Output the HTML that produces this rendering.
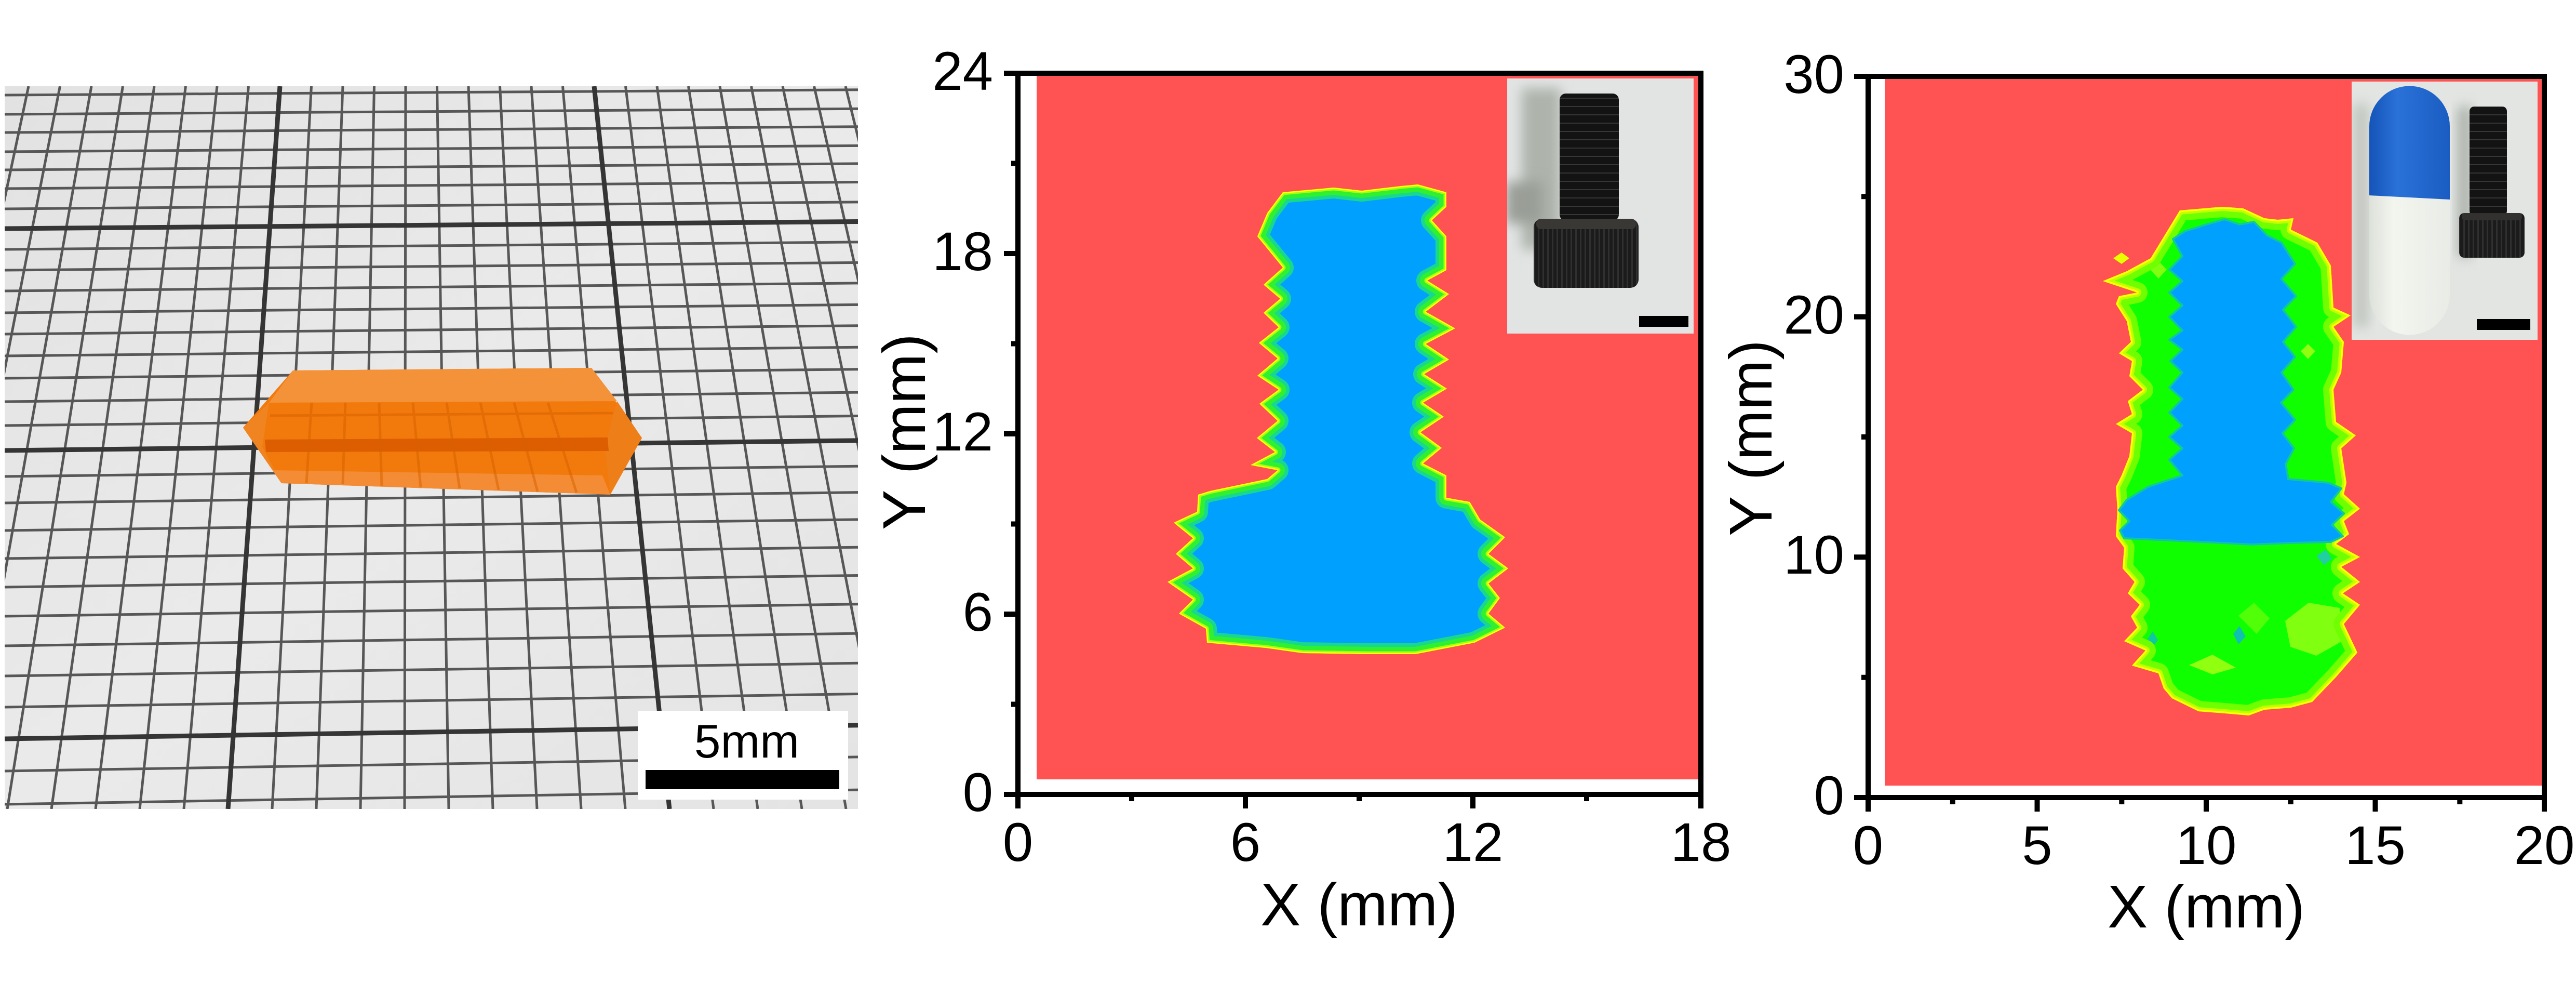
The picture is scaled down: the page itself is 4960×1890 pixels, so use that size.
<!DOCTYPE html>
<html>
<head>
<meta charset="utf-8">
<style>
html,body{margin:0;padding:0;background:#fff;}
svg{display:block;}
text{font-family:"Liberation Sans",Arial,sans-serif;fill:#000;}
</style>
</head>
<body>
<svg xmlns="http://www.w3.org/2000/svg" xmlns:xlink="http://www.w3.org/1999/xlink" width="4960" height="1890" viewBox="0 0 4960 1890">
<defs>
  <clipPath id="ph"><rect x="9" y="166" width="1643" height="1391"/></clipPath>
  <linearGradient id="pg" x1="0" y1="0" x2="1" y2="1">
    <stop offset="0" stop-color="#e2e2e2"/>
    <stop offset="0.5" stop-color="#eaeaea"/>
    <stop offset="1" stop-color="#e4e4e4"/>
  </linearGradient>
  <polygon id="p2" points="2470,370 2568,361 2622,367 2698,358 2730,355 2785,370 2785,398 2757,424 2785,455 2785,520 2748,540 2790,566 2745,600 2802,632 2745,662 2790,692 2742,720 2786,748 2740,775 2780,802 2735,832 2776,862 2740,892 2785,915 2785,958 2830,966 2850,1000 2898,1034 2866,1066 2904,1094 2866,1123 2888,1151 2866,1181 2898,1208 2839,1237 2725,1259 2633,1259 2508,1257 2437,1247 2324,1237 2322,1210 2270,1181 2297,1154 2248,1120 2297,1094 2264,1066 2297,1036 2260,1006 2305,985 2307,952 2330,945 2440,922 2460,905 2408,895 2455,870 2420,843 2460,810 2425,777 2462,750 2421,723 2460,690 2424,660 2462,630 2433,602 2465,575 2433,548 2470,515 2421,455 2440,410"/>
  <clipPath id="c2"><use xlink:href="#p2"/></clipPath>
  <polygon id="p3" points="4197,405 4279,398 4319,401 4360,420 4386,423 4416,420 4411,442 4462,467 4488,511 4493,592 4526,607 4493,629 4513,658 4508,717 4493,750 4498,812 4536,838 4508,863 4518,929 4513,951 4544,979 4513,1003 4523,1028 4498,1047 4544,1072 4508,1091 4544,1120 4511,1142 4544,1164 4513,1201 4539,1256 4498,1303 4452,1351 4411,1362 4360,1366 4330,1377 4284,1373 4233,1369 4182,1344 4166,1325 4156,1296 4105,1281 4131,1252 4090,1234 4115,1208 4103,1186 4120,1164 4097,1142 4110,1120 4087,1094 4090,1054 4074,1032 4077,981 4074,937 4085,915 4100,878 4105,834 4074,816 4105,797 4097,772 4126,750 4100,724 4105,695 4080,680 4103,658 4095,618 4074,585 4080,570 4115,563 4049,541 4095,522 4141,497 4166,456"/>
  <clipPath id="c3"><use xlink:href="#p3"/></clipPath>
  <clipPath id="in2"><rect x="2902" y="151" width="359" height="491"/></clipPath>
  <clipPath id="in3"><rect x="4528" y="157" width="358" height="497"/></clipPath>
  <filter id="bl" x="-50%" y="-50%" width="200%" height="200%"><feGaussianBlur stdDeviation="12"/></filter>
  <pattern id="knurl" width="9" height="20" patternUnits="userSpaceOnUse">
    <rect width="9" height="20" fill="#1b1b1b"/>
    <rect x="0" width="3" height="20" fill="#303030"/>
  </pattern>
  <pattern id="thread" width="20" height="16" patternUnits="userSpaceOnUse">
    <rect width="20" height="16" fill="#131313"/>
    <rect y="12" width="20" height="2" fill="#363636"/>
  </pattern>
  <linearGradient id="capb" x1="0" y1="0" x2="1" y2="0">
    <stop offset="0" stop-color="#1553b8"/>
    <stop offset="0.35" stop-color="#2a72d8"/>
    <stop offset="1" stop-color="#1a5cc2"/>
  </linearGradient>
  <linearGradient id="capw" x1="0" y1="0" x2="1" y2="0">
    <stop offset="0" stop-color="#dde1da"/>
    <stop offset="0.3" stop-color="#f3f5ef"/>
    <stop offset="1" stop-color="#e9ece6"/>
  </linearGradient>
</defs>

<rect width="4960" height="1890" fill="#fff"/>

<!-- PANEL 1: PHOTO -->
<g clip-path="url(#ph)">
  <rect x="9" y="166" width="1643" height="1391" fill="url(#pg)"/>
  <g stroke="#575757" stroke-width="5" fill="none">
    <line x1="55" y1="166" x2="-241" y2="1557"/>
    <line x1="115.5" y1="166" x2="-156" y2="1557"/>
    <line x1="176" y1="166" x2="-71" y2="1557"/>
    <line x1="236.5" y1="166" x2="14" y2="1557"/>
    <line x1="297" y1="166" x2="99" y2="1557"/>
    <line x1="357.5" y1="166" x2="184" y2="1557"/>
    <line x1="418" y1="166" x2="269" y2="1557"/>
    <line x1="478.5" y1="166" x2="354" y2="1557"/>
    <line x1="599.5" y1="166" x2="524" y2="1557"/>
    <line x1="660" y1="166" x2="609" y2="1557"/>
    <line x1="720.5" y1="166" x2="694" y2="1557"/>
    <line x1="781" y1="166" x2="779" y2="1557"/>
    <line x1="841.5" y1="166" x2="864" y2="1557"/>
    <line x1="902" y1="166" x2="949" y2="1557"/>
    <line x1="962.5" y1="166" x2="1034" y2="1557"/>
    <line x1="1023" y1="166" x2="1119" y2="1557"/>
    <line x1="1083.5" y1="166" x2="1204" y2="1557"/>
    <line x1="1204.5" y1="166" x2="1374" y2="1557"/>
    <line x1="1265" y1="166" x2="1459" y2="1557"/>
    <line x1="1325.5" y1="166" x2="1544" y2="1557"/>
    <line x1="1386" y1="166" x2="1629" y2="1557"/>
    <line x1="1446.5" y1="166" x2="1714" y2="1557"/>
    <line x1="1507" y1="166" x2="1799" y2="1557"/>
    <line x1="1567.5" y1="166" x2="1884" y2="1557"/>
    <line x1="1628" y1="166" x2="1969" y2="1557"/>

    <line x1="9" y1="183" x2="1652" y2="172.8"/>
    <line x1="9" y1="220" x2="1652" y2="209.3"/>
    <line x1="9" y1="255" x2="1652" y2="243.8"/>
    <line x1="9" y1="292" x2="1652" y2="280.4"/>
    <line x1="9" y1="327" x2="1652" y2="314.9"/>
    <line x1="9" y1="363" x2="1652" y2="350.5"/>
    <line x1="9" y1="402" x2="1652" y2="388.9"/>
    <line x1="9" y1="480" x2="1652" y2="465.9"/>
    <line x1="9" y1="520" x2="1652" y2="505.4"/>
    <line x1="9" y1="560" x2="1652" y2="544.9"/>
    <line x1="9" y1="602" x2="1652" y2="586.4"/>
    <line x1="9" y1="643" x2="1652" y2="626.8"/>
    <line x1="9" y1="685" x2="1652" y2="668.3"/>
    <line x1="9" y1="728" x2="1652" y2="710.7"/>
    <line x1="9" y1="773" x2="1652" y2="755.1"/>
    <line x1="9" y1="819" x2="1652" y2="800.5"/>
    <line x1="9" y1="917" x2="1652" y2="897.3"/>
    <line x1="9" y1="968" x2="1652" y2="947.6"/>
    <line x1="9" y1="1021" x2="1652" y2="999.9"/>
    <line x1="9" y1="1075" x2="1652" y2="1053.2"/>
    <line x1="9" y1="1130" x2="1652" y2="1107.5"/>
    <line x1="9" y1="1186" x2="1652" y2="1162.8"/>
    <line x1="9" y1="1243" x2="1652" y2="1219.1"/>
    <line x1="9" y1="1301" x2="1652" y2="1276.3"/>
    <line x1="9" y1="1361" x2="1652" y2="1335.5"/>
    <line x1="9" y1="1484" x2="1652" y2="1456.9"/>
    <line x1="9" y1="1548" x2="1652" y2="1520.1"/>
  </g>
  <g stroke="#353535" stroke-width="9" fill="none">
    <line x1="539" y1="166" x2="439" y2="1557"/>
    <line x1="1144" y1="166" x2="1289" y2="1557"/>
    <line x1="9" y1="440" x2="1652" y2="426.5"/>
    <line x1="9" y1="867" x2="1652" y2="847.9"/>
    <line x1="9" y1="1422" x2="1652" y2="1395.8"/>
  </g>

  <!-- crystal -->
  <polygon points="468,823 564,713 1139,708 1236,843 1175,952 542,930" fill="#f27a0c"/>
  <polygon points="564,713 1139,708 1188,772 518,775" fill="#f39238"/>
  <polygon points="468,823 518,775 505,860 542,930" fill="#ef8420"/>
  <polygon points="1188,772 1236,843 1175,952 1165,860" fill="#ee7e18"/>
  <polygon points="510,846 1170,842 1172,868 512,870" fill="#dc5e00"/>
  <polygon points="525,905 1160,915 1175,952 542,930" fill="#f38c34"/>
  <g stroke="#d86000" stroke-width="5" opacity="0.5">
    <line x1="600" y1="775" x2="590" y2="930"/>
    <line x1="665" y1="775" x2="660" y2="932"/>
    <line x1="730" y1="775" x2="735" y2="935"/>
    <line x1="795" y1="775" x2="810" y2="938"/>
    <line x1="860" y1="775" x2="885" y2="940"/>
    <line x1="925" y1="775" x2="960" y2="943"/>
    <line x1="990" y1="775" x2="1035" y2="946"/>
    <line x1="1055" y1="775" x2="1110" y2="948"/>
    <line x1="520" y1="800" x2="1180" y2="795"/>
  </g>

  <!-- scale bar -->
  <rect x="1228" y="1368" width="405" height="171" fill="#fff"/>
  <rect x="1243" y="1482" width="373" height="37" fill="#000"/>
  <text x="1438" y="1458" font-size="91" text-anchor="middle">5mm</text>
</g>

<!-- PANEL 2 -->
<rect x="1996" y="146" width="1274" height="1354" fill="#ff5252"/>
<g clip-path="url(#c2)">
  <use xlink:href="#p2" fill="#00a0ff"/>
  <use xlink:href="#p2" fill="none" stroke="#18d890" stroke-width="42" stroke-linejoin="round"/>
  <use xlink:href="#p2" fill="none" stroke="#30f030" stroke-width="28" stroke-linejoin="round"/>
  <use xlink:href="#p2" fill="none" stroke="#a8ff10" stroke-width="11" stroke-linejoin="round"/>
  <use xlink:href="#p2" fill="none" stroke="#ffff00" stroke-width="5" stroke-linejoin="round"/>
</g>

<g clip-path="url(#in2)">
  <rect x="2902" y="151" width="359" height="491" fill="#e1e4e3"/>
  <rect x="2930" y="170" width="75" height="310" fill="#aeb3ac" filter="url(#bl)"/>
  <rect x="2900" y="350" width="70" height="80" fill="#9a9e97" filter="url(#bl)"/>
  <rect x="3003" y="180" width="114" height="245" rx="12" fill="url(#thread)"/>
  <rect x="2953" y="421" width="202" height="133" rx="16" fill="url(#knurl)"/>
  <rect x="2958" y="421" width="192" height="20" rx="9" fill="#3a3834"/>
  <rect x="3156" y="608" width="95" height="21" fill="#000"/>
</g>

<g stroke="#000" stroke-width="10" fill="none">
  <rect x="1960" y="141" width="1315" height="1388"/>
  <path d="M1933,141H1960 M1933,488H1960 M1933,835H1960 M1933,1182H1960 M1933,1529H1960"/>
  <path d="M1947,314.5H1960 M1947,661.5H1960 M1947,1008.5H1960 M1947,1355.5H1960"/>
  <path d="M1960,1529V1556 M2398,1529V1556 M2836,1529V1556 M3275,1529V1556"/>
  <path d="M2179,1529V1542 M2617,1529V1542 M3055,1529V1542"/>
</g>
<g font-size="105" text-anchor="end">
  <text x="1912" y="173">24</text>
  <text x="1912" y="520">18</text>
  <text x="1912" y="867">12</text>
  <text x="1912" y="1214">6</text>
  <text x="1912" y="1561">0</text>
</g>
<g font-size="105" text-anchor="middle">
  <text x="1960" y="1657">0</text>
  <text x="2398" y="1657">6</text>
  <text x="2836" y="1657">12</text>
  <text x="3275" y="1657">18</text>
</g>
<text x="2617" y="1781" font-size="116" text-anchor="middle">X (mm)</text>
<text transform="translate(1781,831) rotate(-90)" font-size="116" text-anchor="middle">Y (mm)</text>

<!-- PANEL 3 -->
<rect x="3629" y="152" width="1266" height="1360" fill="#ff5252"/>
<polygon points="4069,497 4085,486 4100,497 4085,508" fill="#e8ff00"/>
<g clip-path="url(#c3)">
  <use xlink:href="#p3" fill="#10ff00"/>
  <polygon points="4400,1195 4445,1160 4505,1170 4508,1235 4460,1262 4410,1245" fill="#80ff10"/>
  <polygon points="4215,1280 4260,1260 4305,1285 4260,1298" fill="#90ff10"/>
  <polygon points="4140,519 4156,502 4172,519 4156,536" fill="#80ff10"/>
  <polygon points="4430,676 4444,662 4458,676 4444,691" fill="#90ff10"/>
  <polygon points="4310,1185 4340,1160 4370,1190 4345,1220" fill="#50ff08"/>
  <polygon points="4135,1230 4145,1215 4155,1232 4145,1245" fill="#10c8a0"/>
  <polygon points="4300,1220 4312,1205 4324,1225 4310,1240" fill="#10c0b0"/>
  <polygon points="4460,1070 4478,1058 4490,1075 4475,1088" fill="#20d0a0"/>
  <use xlink:href="#p3" fill="none" stroke="#70ff00" stroke-width="40" stroke-linejoin="round"/>
  <use xlink:href="#p3" fill="none" stroke="#c4ff00" stroke-width="16" stroke-linejoin="round"/>
  <use xlink:href="#p3" fill="none" stroke="#ffff00" stroke-width="7" stroke-linejoin="round"/>
  <polygon points="4184,460 4207,445 4248,432 4284,422 4312,432 4340,427 4365,453 4393,467 4419,508 4393,537 4421,570 4396,596 4421,629 4396,658 4419,687 4393,717 4416,750 4392,775 4419,808 4395,834 4417,863 4401,893 4406,922 4483,929 4508,940 4488,966 4513,988 4490,1010 4511,1032 4488,1043 4411,1045 4335,1048 4258,1044 4156,1039 4090,1036 4082,1021 4100,1003 4080,982 4095,962 4136,937 4202,915 4177,885 4202,863 4177,841 4202,819 4177,794 4202,768 4177,746 4202,717 4179,695 4202,673 4177,654 4202,636 4177,610 4202,588 4177,563 4202,541 4177,519 4202,493" fill="#00a0ff" stroke="#10c8a0" stroke-width="4" stroke-linejoin="round"/>
</g>

<g clip-path="url(#in3)">
  <rect x="4528" y="157" width="358" height="497" fill="#e2e5e2"/>
  <rect x="4532" y="200" width="28" height="430" fill="#c0c4be" filter="url(#bl)"/>
  <rect x="4733" y="205" width="25" height="290" fill="#a8ada6" filter="url(#bl)"/>
  <path d="M4562,376 L4717,383 V567 A77.5,77.5 0 0 1 4562,567 Z" fill="url(#capw)"/>
  <path d="M4562,378 V243 A77.5,77.5 0 0 1 4717,243 V384 L4562,376 Z" fill="url(#capb)"/>
  <rect x="4755" y="205" width="72" height="210" rx="9" fill="url(#thread)"/>
  <rect x="4735" y="410" width="126" height="86" rx="10" fill="url(#knurl)"/>
  <rect x="4740" y="410" width="116" height="14" rx="6" fill="#333130"/>
  <rect x="4769" y="614" width="103" height="21" fill="#000"/>
</g>

<g stroke="#000" stroke-width="10" fill="none">
  <rect x="3597" y="147" width="1302" height="1388"/>
  <path d="M3570,147H3597 M3570,609.7H3597 M3570,1072.3H3597 M3570,1535H3597"/>
  <path d="M3584,378.3H3597 M3584,841H3597 M3584,1303.7H3597"/>
  <path d="M3597,1535V1562 M3922.5,1535V1562 M4248,1535V1562 M4573.5,1535V1562 M4899,1535V1562"/>
  <path d="M3759.8,1535V1548 M4085.3,1535V1548 M4410.8,1535V1548 M4736.3,1535V1548"/>
</g>
<g font-size="105" text-anchor="end">
  <text x="3551" y="179">30</text>
  <text x="3551" y="642">20</text>
  <text x="3551" y="1104">10</text>
  <text x="3551" y="1567">0</text>
</g>
<g font-size="105" text-anchor="middle">
  <text x="3597" y="1663">0</text>
  <text x="3922.5" y="1663">5</text>
  <text x="4248" y="1663">10</text>
  <text x="4573.5" y="1663">15</text>
  <text x="4899" y="1663">20</text>
</g>
<text x="4248" y="1785" font-size="116" text-anchor="middle">X (mm)</text>
<text transform="translate(3411,843) rotate(-90)" font-size="116" text-anchor="middle">Y (mm)</text>
</svg>
</body>
</html>
